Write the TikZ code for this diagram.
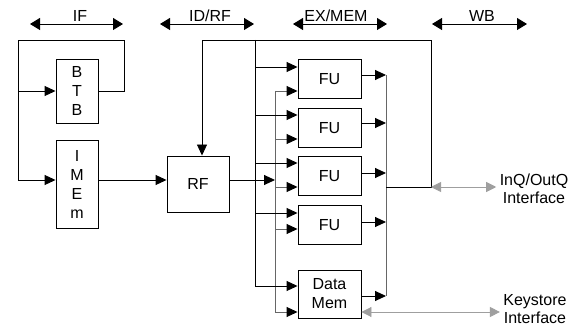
\documentclass[tikz,border=0pt]{standalone}
\usepackage{fontspec}
\setmainfont{Liberation Sans}
\usetikzlibrary{arrows.meta, positioning}

\tikzset{
  blk/.style={draw, line width=0.9pt, inner sep=0pt, align=center,
    font=\fontsize{16}{19}\selectfont},
  fu/.style={minimum width=63pt, minimum height=39pt},
  lbl/.style={font=\fontsize{16}{18}\selectfont, align=center},
  wire/.style={line width=0.9pt, -{Triangle[length=11pt,width=10pt,color=black]}},
  bus/.style={line width=0.9pt},
  stage/.style={line width=0.9pt, {Triangle[length=10pt,width=12pt]}-{Triangle[length=10pt,width=12pt]}},
  iface/.style={line width=0.9pt, gray!75, {Triangle[length=10pt,width=10pt]}-{Triangle[length=10pt,width=10pt]}}
}

\begin{document}
\begin{tikzpicture}[x=1pt, y=-1pt]
  \useasboundingbox (0,0) rectangle (582,326);
  % pipeline stages
  \coordinate (if1) at (30,24);  \coordinate (if2) at (123,24);
  \coordinate (id1) at (160,24); \coordinate (id2) at (254,24);
  \coordinate (ex1) at (293,24); \coordinate (ex2) at (387,24);
  \coordinate (wb1) at (432,24); \coordinate (wb2) at (527,24);
  \draw[stage] (if1) -- (if2);
  \draw[stage] (id1) -- (id2);
  \draw[stage] (ex1) -- (ex2);
  \draw[stage] (wb1) -- (wb2);
  \node[lbl, anchor=base] (iflbl) at (80,22) {IF};
  \node[lbl, anchor=base] (idlbl) at (210,22) {ID/RF};
  \node[lbl, anchor=base] (exlbl) at (336,22) {EX/MEM};
  \node[lbl, anchor=base] (wblbl) at (482,22) {WB};

  % blocks
  \node[blk, minimum width=42pt, minimum height=64pt] (btb) at (77,91) {B\\T\\B};
  \node[blk, minimum width=42pt, minimum height=88pt] (imem) at (77,184) {I\\M\\E\\m};
  \node[blk, minimum width=62pt, minimum height=56pt] (rf) at (198,184) {RF};
  \foreach \i/\y in {1/79,2/128,3/176,4/225}
    \node[blk, fu] (fu\i) at (329.5,\y) {FU};
  \node[blk, minimum width=63pt, minimum height=48pt] (dm) at (329.5,294) {Data\\Mem};

  % fetch loop
  \coordinate (lp) at (18,40);
  \draw[wire] (btb.east) -- ++(26,0) |- (lp) |- ([yshift=4pt]imem.west);
  \draw[wire] (btb.west -| lp) -- (btb.west);
  \draw[wire] ([yshift=4pt]imem.east) -- ([yshift=4pt]imem.east -| rf.west);

  % buses
  \coordinate (b1top) at (255,40);  \coordinate (b1bot) at (255,286);
  \coordinate (b2top) at (275,91);  \coordinate (b2bot) at (275,312);
  \coordinate (otop) at (386,75);   \coordinate (obot) at (386,296);
  \coordinate (wbj) at (386,187);   \coordinate (wbc) at (431,187);
  \draw[bus] (b1top) -- (b1bot);
  \draw[bus, black!60] (b2top) -- (b2bot);
  \draw[bus, black!60] (otop) -- (obot);
  \draw[wire] (wbj) -- (wbc) |- (202,40) -- (202,40 |- rf.north);
  \draw[wire] ([yshift=4pt]rf.east) -- ([yshift=4pt]rf.east -| b2top);

  % unit inputs and outputs
  \foreach \n/\ya/\yb in {fu1/67/91, fu2/115/139, fu3/163/187, fu4/213/229, dm/286/312} {
    \coordinate (ta) at (255,\ya);
    \coordinate (tb) at (275,\yb);
    \draw[wire] (ta) -- (ta -| \n.west);
    \draw[wire, black!60] (tb) -- (tb -| \n.west);
  }
  \foreach \n/\y in {fu1/75, fu2/123, fu3/173, fu4/222, dm/296} {
    \coordinate (to) at (386,\y);
    \draw[wire] (to -| \n.east) -- (to);
  }

  % interfaces
  \node[lbl] (inq) at (534,189) {InQ/OutQ\\Interface};
  \node[lbl] (ks) at (535,309) {Keystore\\Interface};
  \draw[iface] (wbc) -- (wbc -| inq.west);
  \coordinate (kc) at ([yshift=-18pt]dm.east);
  \draw[iface] (kc) -- (kc -| ks.west);
\end{tikzpicture}
\end{document}
